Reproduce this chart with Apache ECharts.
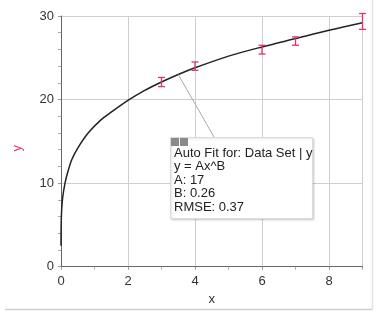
<!DOCTYPE html>
<html><head><meta charset="utf-8">
<script src="https://cdn.jsdelivr.net/npm/echarts@6/dist/echarts.min.js"></script>
<style>html,body{margin:0;padding:0;background:#fff}#c{width:379px;height:315px}</style>
</head><body><div id="c"></div>
<script>
// Measured data points with error bars
var pointX = [3, 4, 6, 7, 9];
var pointY = [22.1, 24.0, 26.0, 27.0, 29.3];
var errLow = [21.55, 23.5, 25.45, 26.5, 28.4];
var errHigh = [22.65, 24.5, 26.5, 27.5, 30.3];
// Fitted curve
var curveX = [0.0005, 0.002, 0.01, 0.02, 0.05, 0.12, 0.2, 0.32, 0.5, 0.81, 1.2, 1.5, 2, 2.5, 3, 3.5, 4, 5, 6, 7, 8, 9];
var curveY = [2.5, 4.2, 5.8, 6.8, 8.3, 10.0, 11.3, 12.8, 14.2, 16.0, 17.6, 18.5, 19.9, 21.1, 22.1, 23.0, 23.8, 25.2, 26.3, 27.3, 28.3, 29.2];
var xTicks = [0, 2, 4, 6, 8];
var yTicks = [0, 10, 20, 30];
var fitLines = ['Auto Fit for: Data Set | y', 'y = Ax^B', 'A: 17', 'B: 0.26', 'RMSE: 0.37'];

var chart = echarts.init(document.getElementById('c'), null, {renderer: 'canvas'});
var font = '"Liberation Sans", Arial, sans-serif';
var pink = '#e0336f';

var curveData = curveX.map(function (x, i) { return [x, curveY[i]]; });
var errData = pointX.map(function (x, i) { return [x, errLow[i], errHigh[i], pointY[i]]; });

chart.setOption({
  animation: false,
  textStyle: {fontFamily: font},
  grid: {left: 61, right: 16.5, top: 16, bottom: 48.3},
  xAxis: {
    type: 'value', min: 0, max: 9, interval: 2,
    name: 'x', nameLocation: 'middle', nameGap: 26,
    nameTextStyle: {color: '#333', fontSize: 13, fontFamily: font},
    axisLine: {show: true, lineStyle: {color: '#666', width: 1}},
    axisTick: {show: true, length: 3, lineStyle: {color: '#999'}},
    minorTick: {show: true, splitNumber: 2, length: 3, lineStyle: {color: '#aaa'}},
    axisLabel: {color: '#333', fontSize: 13, margin: 8, fontFamily: font,
      formatter: function (v) { return xTicks.indexOf(v) >= 0 ? String(v) : ''; }},
    splitLine: {show: true, lineStyle: {color: '#cfcfcf', width: 1}}
  },
  yAxis: {
    type: 'value', min: 0, max: 30, interval: 10,
    name: 'y', nameLocation: 'middle', nameGap: 37, nameRotate: 90,
    nameTextStyle: {color: pink, fontSize: 13, fontFamily: font, padding: [0, 0, 0, -14]},
    axisLine: {show: true, lineStyle: {color: '#666', width: 1}},
    axisTick: {show: true, length: 3, lineStyle: {color: '#999'}},
    minorTick: {show: true, splitNumber: 5, length: 3, lineStyle: {color: '#aaa'}},
    axisLabel: {color: '#333', fontSize: 13, margin: 7, fontFamily: font,
      formatter: function (v) { return yTicks.indexOf(v) >= 0 ? String(v) : ''; }},
    splitLine: {show: true, lineStyle: {color: '#cfcfcf', width: 1}}
  },
  series: [
    {
      type: 'line', data: curveData, smooth: 0.3, symbol: 'none',
      lineStyle: {color: '#222', width: 1.5}, z: 3
    },
    {
      type: 'custom', data: errData, z: 4,
      renderItem: function (params, api) {
        var x = api.value(0);
        var lo = api.coord([x, api.value(1)]);
        var hi = api.coord([x, api.value(2)]);
        var cw = 3.5;
        var st = {stroke: pink, lineWidth: 1.3};
        return {type: 'group', children: [
          {type: 'line', shape: {x1: lo[0], y1: lo[1], x2: hi[0], y2: hi[1]}, style: st},
          {type: 'line', shape: {x1: lo[0] - cw, y1: lo[1], x2: lo[0] + cw, y2: lo[1]}, style: st},
          {type: 'line', shape: {x1: hi[0] - cw, y1: hi[1], x2: hi[0] + cw, y2: hi[1]}, style: st}
        ]};
      }
    }
  ]
});

// annotation: leader line and box
var anchor = chart.convertToPixel({gridIndex: 0}, [3.5, 23.0]);
var boxL = 170, boxT = 137, boxW = 142, boxH = 81;
var textChildren = fitLines.map(function (t, i) {
  return {type: 'text', left: 174, top: 147 + i * 13.4,
    style: {text: t, fill: '#222', font: '13px ' + font}};
});
chart.setOption({
  graphic: [
    {type: 'line', shape: {x1: anchor[0], y1: anchor[1], x2: 214, y2: boxT}, style: {stroke: '#aaa', lineWidth: 1}, z: 5},
    {type: 'rect', shape: {x: boxL + 0.5, y: boxT + 0.5, width: boxW, height: boxH},
      style: {fill: '#fff', stroke: '#dcdcdc', lineWidth: 1, shadowBlur: 2, shadowColor: 'rgba(0,0,0,0.15)', shadowOffsetX: 1, shadowOffsetY: 1}, z: 6},
    {type: 'rect', shape: {x: 171, y: 138, width: 8, height: 8}, style: {fill: '#8a8a8a'}, z: 7},
    {type: 'rect', shape: {x: 180, y: 138, width: 8, height: 8}, style: {fill: '#8a8a8a'}, z: 7}
  ].concat(textChildren.map(function (t) { t.z = 7; return t; })).concat([
    {type: 'line', shape: {x1: 5, y1: 309.5, x2: 372.5, y2: 309.5}, style: {stroke: '#cfcfcf', lineWidth: 1.5}, z: 1},
    {type: 'line', shape: {x1: 372.5, y1: 0, x2: 372.5, y2: 309.5}, style: {stroke: '#e2e2e2', lineWidth: 1.5}, z: 1}
  ])
});
</script>
</body></html>
